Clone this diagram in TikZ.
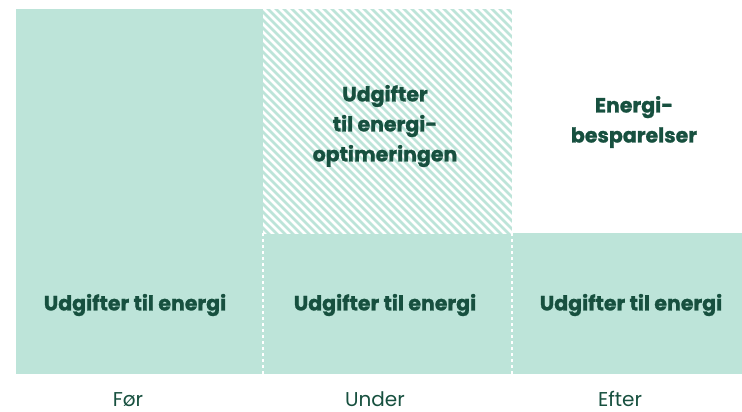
\documentclass[tikz,border=0pt]{standalone}
\usepackage{fontspec}
\setmainfont{Poppins}[BoldFeatures={FakeBold=1.2}]
\usetikzlibrary{positioning}

\definecolor{mint}{HTML}{BDE4D9}
\definecolor{pine}{HTML}{17503F}

\begin{document}
\begin{tikzpicture}[x=1pt,y=-1pt,
    bar label/.style={font=\fontsize{20.5}{30}\bfseries\selectfont,text=pine,align=center},
    axis label/.style={font=\fontsize{20}{22}\selectfont,text=pine,anchor=base,inner sep=0pt},
    divider/.style={white,line width=1.2pt,dash pattern=on 3pt off 3pt}]

    \useasboundingbox (0,0) rectangle (742,412);

    % bars
    \fill[mint] (16,9) rectangle (263,374);
    \fill[mint] (263,233) rectangle (742,374);
    \begin{scope}
        \clip (263,9) rectangle (512,233);
        \fill[mint] (263,9) rectangle (512,233);
        \foreach \s in {31,39,...,520}
            \draw[white,line width=2.6pt] (\s,0) -- ++(240,240);
    \end{scope}

    % dividers
    \coordinate (d1top) at (263,233);
    \coordinate (d1bot) at (263,374);
    \coordinate (d2top) at (512,233);
    \coordinate (d2bot) at (512,374);
    \draw[divider] (d1top) -- (d1bot);
    \draw[divider] (d2top) -- (d2bot);

    % labels
    \node[bar label] (cost1) at (135,305) {Udgifter til energi};
    \node[bar label] (cost2) at (385,305) {Udgifter til energi};
    \node[bar label] (cost3) at (631,305) {Udgifter til energi};
    \node[bar label] (invest) at (385,126) {Udgifter\\til energi-\\optimeringen};
    \node[bar label] (saving) at (634,122) {Energi-\\besparelser};

    \node[axis label] (before) at (128,406) {Før};
    \node[axis label] (during) at (375,406) {Under};
    \node[axis label] (after)  at (620,406) {Efter};
\end{tikzpicture}
\end{document}
